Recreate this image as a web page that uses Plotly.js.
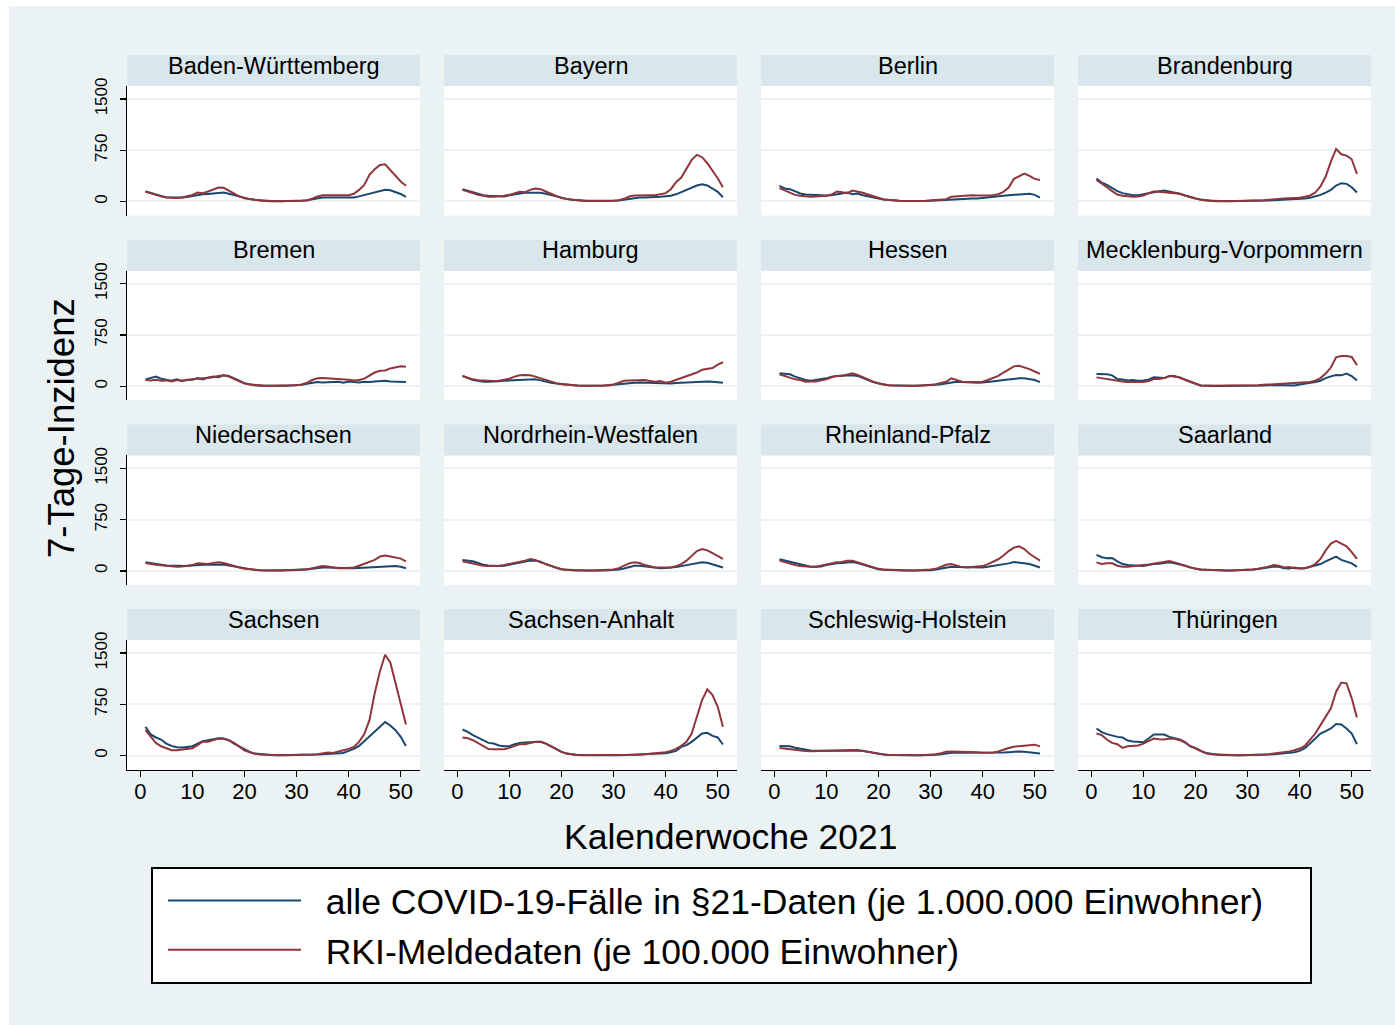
<!DOCTYPE html>
<html>
<head>
<meta charset="utf-8">
<script src="https://cdn.plot.ly/plotly-3.0.1.min.js"></script>
<style>html,body{margin:0;padding:0;background:#ffffff;}#chart{width:1395px;height:1025px;}</style>
</head>
<body>
<div id="chart"></div>
<script>
// ---- data -----------------------------------------------------------
const weeks = [1,2,3,4,5,6,7,8,9,10,11,12,13,14,15,16,17,18,19,20,21,22,23,24,25,26,27,28,29,30,31,32,33,34,35,36,37,38,39,40,41,42,43,44,45,46,47,48,49,50,51];
const states = ["Baden-Württemberg","Bayern","Berlin","Brandenburg","Bremen","Hamburg","Hessen","Mecklenburg-Vorpommern","Niedersachsen","Nordrhein-Westfalen","Rheinland-Pfalz","Saarland","Sachsen","Sachsen-Anhalt","Schleswig-Holstein","Thüringen"];
const seriesNames = ["alle COVID-19-Fälle in §21-Daten (je 1.000.000 Einwohner)","RKI-Meldedaten (je 100.000 Einwohner)"];
const xTickVals = [0,10,20,30,40,50];
const yTickVals = [0,750,1500];

// §21 data (per 1,000,000) and RKI data (per 100,000)
const bw_s21 = [146,122,100,80,62,58,58,60,65,80,100,105,110,120,130,130,112,90,70,50,35,25,15,10,5,5,5,5,5,5,10,18,30,45,58,58,58,50,50,50,60,75,92,110,128,150,170,165,140,110,68];
const bw_rki = [146,120,97,75,58,50,50,58,73,95,130,120,146,180,204,200,160,112,75,48,32,24,15,10,5,5,5,6,8,10,12,15,40,73,92,92,88,83,85,92,112,170,243,390,472,535,545,462,365,292,229];
const by_s21 = [180,158,136,112,92,83,78,75,73,90,107,118,127,130,131,127,112,92,72,54,38,24,16,12,10,10,10,10,10,10,15,25,39,50,58,58,58,62,68,75,83,105,136,166,200,234,253,234,190,141,63];
const by_rki = [170,145,122,100,83,68,70,73,85,97,122,141,136,170,190,180,146,112,83,49,35,24,15,10,6,5,5,5,8,12,19,39,73,88,92,92,92,92,102,122,180,282,350,487,609,682,648,560,453,341,209];
const be_s21 = [229,190,180,146,117,102,97,92,90,88,92,107,122,131,107,117,92,73,54,44,29,20,15,10,7,6,5,7,10,12,15,20,24,28,34,40,44,44,44,50,54,62,68,83,92,97,107,112,112,97,58];
const be_rki = [195,161,122,97,83,75,68,72,78,83,102,146,136,122,161,146,127,102,73,54,29,20,15,10,7,5,6,8,10,14,19,26,34,68,76,83,88,92,88,83,88,92,107,141,204,331,375,409,375,331,316];
const bb_s21 = [336,277,243,200,151,122,102,92,92,107,131,146,151,161,146,131,112,88,63,44,29,15,10,5,5,5,5,5,5,5,8,10,13,16,19,22,26,29,34,39,45,54,73,97,131,170,234,268,258,209,131];
const bb_rki = [316,268,209,151,102,83,73,68,73,88,122,146,141,136,131,127,112,88,63,44,24,15,10,5,5,5,5,6,8,10,12,15,19,25,34,40,44,49,52,54,68,88,131,219,365,584,769,691,672,618,404];
const hb_s21 = [100,120,140,110,90,80,100,75,90,95,120,100,125,140,130,160,150,120,80,45,25,15,8,5,5,5,5,5,8,10,20,35,50,60,55,60,55,65,50,70,60,55,65,60,70,75,80,70,65,65,60];
const hb_rki = [90,85,95,80,85,70,90,80,95,100,110,120,115,130,150,160,140,110,70,40,25,15,8,5,5,5,5,8,10,15,25,50,90,115,120,115,110,115,110,95,85,90,110,150,200,225,230,260,280,290,285];
const hh_s21 = [150,120,90,78,65,65,65,72,80,85,90,95,100,100,100,85,65,50,40,30,20,15,10,5,5,5,6,8,10,20,30,40,50,52,55,52,50,45,40,40,40,45,50,55,60,65,70,70,65,60,50];
const hh_rki = [150,125,100,88,80,78,75,80,90,110,140,160,165,160,140,115,90,65,45,30,20,15,10,7,5,5,6,10,15,25,50,80,85,90,90,90,75,65,75,50,65,90,115,140,165,200,240,255,265,315,350];
const he_s21 = [190,180,175,140,110,90,80,90,100,115,140,150,155,155,160,150,125,90,60,40,25,15,10,7,5,5,6,8,10,10,20,30,40,55,65,60,55,52,50,55,60,70,80,90,100,110,115,115,105,90,60];
const he_rki = [175,150,115,100,90,65,68,70,85,100,130,150,150,165,190,165,130,90,65,40,25,15,10,7,5,5,6,8,10,20,30,45,65,115,90,65,62,60,60,65,90,115,150,200,250,290,300,280,250,215,180];
const mv_s21 = [179,179,174,159,104,99,84,89,80,84,94,129,129,119,149,144,129,94,60,35,10,5,4,3,3,3,3,4,5,5,6,8,10,15,20,18,15,12,10,25,35,40,60,80,119,144,164,159,184,149,84];
const mv_rki = [129,115,99,85,75,68,60,60,60,60,75,104,104,119,149,149,124,94,60,35,10,5,5,5,5,5,5,5,5,5,10,15,20,25,30,32,35,38,40,50,55,60,80,119,184,273,422,442,442,428,308];
const ni_s21 = [125,110,100,90,80,75,70,70,70,80,90,90,90,95,100,95,80,65,50,35,25,15,10,5,5,5,5,7,8,10,20,25,30,40,50,48,45,40,35,38,40,45,50,55,60,65,70,72,70,60,40];
const ni_rki = [115,100,90,82,75,68,60,65,70,85,110,100,100,115,125,115,90,70,50,30,20,15,10,7,5,5,6,8,10,10,15,20,40,60,70,65,50,40,40,40,50,75,100,125,160,210,225,210,190,180,140];
const nw_s21 = [160,150,140,115,90,80,70,70,75,90,110,125,140,150,150,135,100,70,45,25,15,10,7,5,5,5,5,7,8,10,20,35,60,75,75,65,50,45,40,42,45,55,70,85,100,115,125,120,100,75,50];
const nw_rki = [140,125,100,85,75,70,70,75,85,100,125,130,150,175,160,125,100,70,45,25,15,10,7,5,5,5,6,8,10,20,40,75,110,125,115,85,65,50,48,45,50,70,100,150,225,290,320,300,260,215,175];
const rp_s21 = [170,150,135,115,90,70,60,60,65,85,100,110,115,125,130,115,90,65,45,25,15,10,7,5,5,5,5,7,8,10,20,35,50,60,58,55,50,45,48,50,60,70,80,90,110,130,120,100,100,75,50];
const rp_rki = [150,125,110,85,70,60,60,60,75,100,115,125,130,150,150,130,100,75,50,30,20,15,10,7,5,5,6,8,10,20,30,60,90,100,75,55,50,55,60,70,100,130,170,225,290,340,360,320,250,200,150];
const sl_s21 = [235,200,185,190,140,100,85,75,75,70,90,100,105,120,125,110,95,75,50,30,20,15,10,7,5,5,6,8,10,15,20,28,35,50,65,60,40,35,50,35,40,60,75,100,140,175,210,160,135,110,60];
const sl_rki = [125,100,110,110,75,60,60,65,70,85,95,110,120,135,145,125,100,75,50,30,20,15,10,7,5,5,6,8,10,15,20,30,40,60,85,75,50,55,40,45,40,60,100,175,300,400,440,400,360,275,175];
const sn_s21 = [421,309,265,235,176,142,122,118,127,137,176,211,225,245,255,250,225,176,137,98,54,29,18,10,7,5,5,5,5,5,7,10,12,15,20,25,27,29,39,69,98,142,211,274,348,421,490,441,372,274,142];
const sn_rki = [372,274,186,137,103,78,78,88,93,108,152,206,201,225,250,245,225,186,127,78,49,25,15,10,7,5,5,5,5,5,8,10,15,20,29,44,39,54,78,98,127,201,314,519,911,1230,1475,1362,1058,764,456];
const st_s21 = [382,348,299,265,225,186,176,147,137,137,167,186,191,191,201,201,176,137,93,54,29,15,10,7,5,5,5,5,5,5,6,8,10,12,15,18,22,25,30,34,49,69,127,152,201,265,323,333,289,265,162];
const st_rki = [265,255,225,180,135,95,93,98,93,113,137,167,167,181,201,201,176,137,93,54,29,15,10,5,5,5,5,5,5,5,6,7,8,10,14,20,29,34,39,49,69,98,142,201,323,568,813,970,887,715,421];
const sh_s21 = [140,135,135,115,100,85,75,70,70,72,75,78,80,80,80,78,70,55,40,25,15,10,7,5,5,5,5,5,5,7,12,20,35,40,40,40,38,38,38,40,40,40,42,45,50,58,60,55,50,40,30];
const sh_rki = [110,100,90,80,70,68,65,68,70,75,78,80,82,85,82,80,70,55,40,25,15,10,7,5,5,5,5,5,7,10,20,35,55,60,60,58,55,55,50,40,40,45,60,90,110,130,135,150,155,160,135];
const th_s21 = [397,343,314,289,274,265,220,206,196,196,250,309,309,309,274,260,235,196,137,113,69,39,25,15,10,5,5,5,5,5,7,10,12,15,20,25,30,39,49,69,108,176,250,323,358,397,461,456,397,323,167];
const th_rki = [323,299,235,186,167,113,137,142,147,176,216,250,240,235,250,245,225,191,137,103,64,34,20,15,10,5,5,5,5,5,7,10,15,20,29,40,49,59,78,103,142,225,323,446,568,691,936,1068,1058,838,559];

const s21Series = [bw_s21,by_s21,be_s21,bb_s21,hb_s21,hh_s21,he_s21,mv_s21,ni_s21,nw_s21,rp_s21,sl_s21,sn_s21,st_s21,sh_s21,th_s21];
const rkiSeries = [bw_rki,by_rki,be_rki,bb_rki,hb_rki,hh_rki,he_rki,mv_rki,ni_rki,nw_rki,rp_rki,sl_rki,sn_rki,st_rki,sh_rki,th_rki];

// ---- layout geometry (pixels) --------------------------------------
const W = 1395, H = 1025;
const colLeft = [127, 444, 761, 1078];
const colW = 293;
const rowTop = [86, 270.7, 455.4, 640.1];
const rowH = 129.5;
const stripH = 31;
const BLUE = '#1a476f', RED = '#90353b';
const BG = '#eaf2f3', STRIP = '#d9e6eb', GRID = '#eaf2f3';
const FONT = 'Arial, "Liberation Sans", Helvetica, sans-serif';
const GAP = '\u00a0\u00a0';

const px = x => x / W;
const py = y => 1 - y / H;

const traces = [];
const layout = {
  width: W, height: H,
  margin: {l: 0, r: 0, t: 0, b: 0},
  paper_bgcolor: BG,
  plot_bgcolor: '#ffffff',
  font: {family: FONT, color: '#000000'},
  showlegend: true,
  legend: {
    x: px(163), xanchor: 'left', y: py(871), yanchor: 'top',
    bgcolor: 'rgba(0,0,0,0)', borderwidth: 0,
    font: {family: FONT, size: 35.5, color: '#000000'},
    itemwidth: 133, tracegroupgap: 0
  },
  shapes: [],
  annotations: []
};

// white edge strips
layout.shapes.push({type: 'rect', xref: 'paper', yref: 'paper', x0: 0, x1: px(9), y0: 0, y1: 1, fillcolor: '#ffffff', line: {width: 0}, layer: 'below'});
layout.shapes.push({type: 'rect', xref: 'paper', yref: 'paper', x0: 0, x1: 1, y0: py(6), y1: 1, fillcolor: '#ffffff', line: {width: 0}, layer: 'below'});

states.forEach((st, i) => {
  const r = Math.floor(i / 4), c = i % 4;
  const n = i + 1;
  const xa = n === 1 ? 'xaxis' : 'xaxis' + n;
  const ya = n === 1 ? 'yaxis' : 'yaxis' + n;
  const xr = n === 1 ? 'x' : 'x' + n;
  const yr = n === 1 ? 'y' : 'y' + n;
  const x0 = colLeft[c], x1 = colLeft[c] + colW;
  const y0 = rowTop[r], y1 = rowTop[r] + rowH;
  const bottom = r === 3, left = c === 0;

  layout[xa] = {
    domain: [px(x0), px(x1)], anchor: yr,
    range: [-2.55, 53.7], fixedrange: true,
    showgrid: false, zeroline: false,
    showline: bottom, linecolor: '#000000', linewidth: 1.3,
    ticks: bottom ? 'outside' : '', ticklen: 6, tickwidth: 1.3, tickcolor: '#000000',
    tickvals: xTickVals, showticklabels: bottom, ticklabelstandoff: -4,
    tickfont: {family: FONT, size: 22, color: '#000000'}
  };
  layout[ya] = {
    domain: [py(y1), py(y0)], anchor: xr,
    range: [-205, 1690], fixedrange: true,
    showgrid: true, gridcolor: GRID, gridwidth: 2, zeroline: false,
    showline: left, linecolor: '#000000', linewidth: 1.3,
    ticks: left ? 'outside' : '', ticklen: 6, tickwidth: 1.3, tickcolor: '#000000',
    tickvals: yTickVals, showticklabels: left, tickangle: -90, ticklabelstandoff: 6,
    tickfont: {family: FONT, size: 17, color: '#000000'}
  };

  // strip header
  layout.shapes.push({type: 'rect', xref: 'paper', yref: 'paper',
    x0: px(x0), x1: px(x1), y0: py(y0), y1: py(y0 - stripH),
    fillcolor: STRIP, line: {width: 0}, layer: 'below'});
  layout.annotations.push({xref: 'paper', yref: 'paper', x: px((x0 + x1) / 2), y: py(y0 - stripH / 2 - 5),
    xanchor: 'center', yanchor: 'middle', text: st, showarrow: false,
    font: {family: FONT, size: 23.5, color: '#000000'}});

  traces.push({type: 'scatter', mode: 'lines', x: weeks, y: s21Series[i], xaxis: xr, yaxis: yr,
    name: GAP + seriesNames[0], legendgroup: 's21', showlegend: i === 0, legendrank: 1,
    line: {color: BLUE, width: 2}, hoverinfo: 'skip'});
  traces.push({type: 'scatter', mode: 'lines', x: weeks, y: rkiSeries[i], xaxis: xr, yaxis: yr,
    name: GAP + seriesNames[1], legendgroup: 'rki', showlegend: i === 0, legendrank: 2,
    line: {color: RED, width: 2}, hoverinfo: 'skip'});
});

// legend frame
layout.shapes.push({type: 'rect', xref: 'paper', yref: 'paper',
  x0: px(152), x1: px(1311), y0: py(983), y1: py(868),
  fillcolor: '#ffffff', line: {color: '#000000', width: 2}, layer: 'below'});

// axis titles
layout.annotations.push({xref: 'paper', yref: 'paper', x: px(731), y: py(837), xanchor: 'center', yanchor: 'middle',
  text: 'Kalenderwoche 2021', showarrow: false, font: {family: FONT, size: 35.5, color: '#000000'}});
layout.annotations.push({xref: 'paper', yref: 'paper', x: px(62), y: py(428), xanchor: 'center', yanchor: 'middle',
  text: '7-Tage-Inzidenz', textangle: -90, showarrow: false, font: {family: FONT, size: 36.5, color: '#000000'}});

Plotly.newPlot('chart', traces, layout, {displayModeBar: false, staticPlot: true});
</script>
</body>
</html>
